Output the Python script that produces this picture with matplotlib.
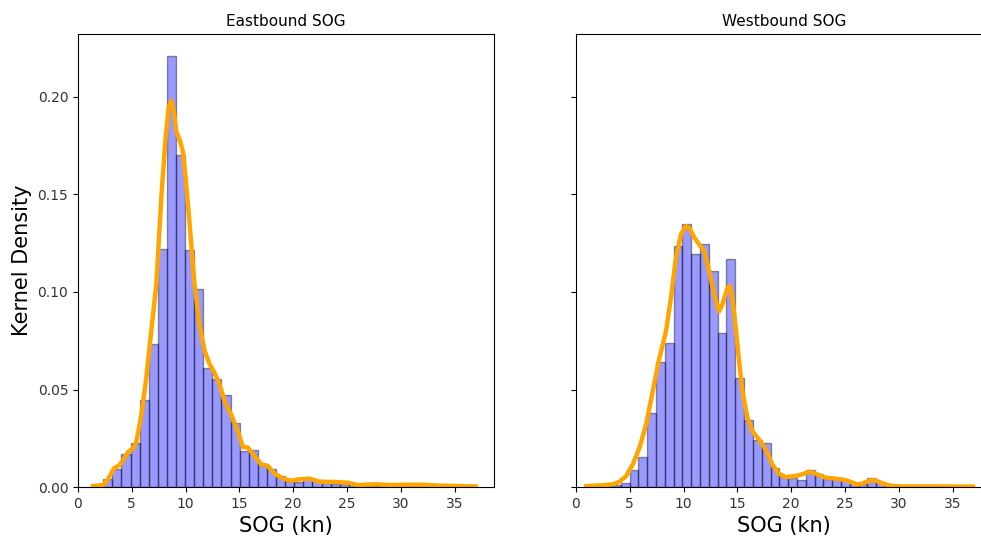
import matplotlib.pyplot as plt
import numpy as np

# Histogram bins (start, end, count) and bar heights
east_bins = (1.5, 37.0, 42)
east_density = [0.0005, 0.0043, 0.0094, 0.0168, 0.0227, 0.0444, 0.0732, 0.1219,
                0.2209, 0.1701, 0.1214, 0.1017, 0.0609, 0.0556, 0.0470, 0.0330,
                0.0185, 0.0188, 0.0116, 0.0091, 0.0056, 0.0030, 0.0027, 0.0039,
                0.0036, 0.0020, 0.0017, 0.0017, 0.0014, 0.0010, 0.0008, 0.0009,
                0.0007, 0.0008, 0.0006, 0.0005, 0.0006, 0.0004, 0.0003, 0.0003,
                0.0002, 0.0002]

west_bins = (0.9, 36.9, 44)
west_density = [0.0000, 0.0003, 0.0005, 0.0010, 0.0020, 0.0085, 0.0154, 0.0381,
                0.0641, 0.0737, 0.1236, 0.1350, 0.1193, 0.1244, 0.1108, 0.0791,
                0.1168, 0.0561, 0.0342, 0.0239, 0.0224, 0.0099, 0.0056, 0.0044,
                0.0036, 0.0089, 0.0065, 0.0043, 0.0039, 0.0034, 0.0020, 0.0014,
                0.0048, 0.0027, 0.0009, 0.0004, 0.0003, 0.0003, 0.0002, 0.0002,
                0.0002, 0.0001, 0.0001, 0.0001]

# KDE curves (x, density)
east_kde_x = [1.39, 2.32, 2.79, 3.35, 3.87, 4.34, 4.65, 5.11, 5.42, 5.89, 6.35, 6.81,
              7.28, 7.74, 8.11, 8.42, 8.67, 8.92, 9.13, 9.53, 9.75, 10.06, 10.37,
              10.83, 11.3, 11.76, 12.23, 12.69, 13.16, 13.62, 14.24, 14.86, 15.33,
              15.79, 16.41, 17.03, 17.65, 18.27, 19.04, 19.82, 20.44, 21.52, 22.45,
              23.85, 25.09, 26.02, 27.56, 29.11, 30.66, 31.9, 33.76, 35.3, 36.95]
east_kde_y = [0.0005, 0.001, 0.004, 0.0096, 0.0113, 0.015, 0.018, 0.0198, 0.023,
              0.037, 0.056, 0.080, 0.104, 0.148, 0.177, 0.1945, 0.198, 0.192,
              0.1826, 0.1766, 0.172, 0.155, 0.135, 0.104, 0.083, 0.070, 0.063,
              0.0586, 0.0526, 0.044, 0.037, 0.0287, 0.0205, 0.0202, 0.0159, 0.0116,
              0.0108, 0.0068, 0.0044, 0.0031, 0.0039, 0.0043, 0.0027, 0.0026,
              0.0022, 0.001, 0.0014, 0.001, 0.0012, 0.0012, 0.0007, 0.0005, 0.0003]

west_kde_x = [0.96, 2.5, 3.43, 4.05, 4.66, 5.28, 5.9, 6.52, 7.13, 7.75, 8.37, 8.83,
              9.29, 9.76, 10.22, 10.53, 10.99, 11.45, 11.92, 12.38, 13.0, 13.3,
              13.61, 14.08, 14.29, 14.54, 14.85, 15.16, 15.47, 15.93, 16.39, 17.01,
              17.63, 18.25, 18.86, 19.48, 20.4, 21.18, 21.79, 22.41, 23.18, 24.11,
              25.03, 26.11, 26.57, 27.35, 27.81, 28.58, 29.2, 30.28, 33.37, 36.9]
west_kde_y = [0.0005, 0.0009, 0.0014, 0.0027, 0.0056, 0.0116, 0.020, 0.032, 0.049,
              0.066, 0.080, 0.097, 0.1176, 0.1296, 0.1338, 0.133, 0.128, 0.1244,
              0.121, 0.1108, 0.0954, 0.090, 0.0937, 0.102, 0.1031, 0.097, 0.0817,
              0.0646, 0.049, 0.0356, 0.0287, 0.0244, 0.0193, 0.0116, 0.0068, 0.0051,
              0.0056, 0.0068, 0.0079, 0.0065, 0.0048, 0.0043, 0.0036, 0.0014,
              0.0017, 0.0034, 0.0034, 0.0017, 0.0007, 0.0003, 0.0003, 0.0002]

fig = plt.figure(figsize=(9.81, 5.36), dpi=100)
ax1 = fig.add_axes([0.0795, 0.0914, 0.4245, 0.8452])
ax2 = fig.add_axes([0.5871, 0.0914, 0.4245, 0.8452], sharey=ax1)

panels = [
    (ax1, east_bins, east_density, east_kde_x, east_kde_y, "Eastbound SOG"),
    (ax2, west_bins, west_density, west_kde_x, west_kde_y, "Westbound SOG"),
]

for ax, bins, dens, kx, ky, title in panels:
    edges = np.linspace(bins[0], bins[1], bins[2] + 1)
    ax.bar(edges[:-1], dens, width=np.diff(edges), align='edge',
           color='blue', alpha=0.4, edgecolor='black', linewidth=1)
    ax.plot(kx, ky, color='orange', linewidth=3.2)
    ax.set_title(title, fontsize=11)
    ax.set_xlabel("SOG (kn)", fontsize=15)
    ax.set_xlim(0, 38.7)
    ax.set_xticks([0, 5, 10, 15, 20, 25, 30, 35])
    ax.tick_params(labelsize=10, labelcolor='#333333')

ax1.set_ylim(0, 0.2323)
ax1.set_yticks([0.00, 0.05, 0.10, 0.15, 0.20])
ax1.set_ylabel("Kernel Density", fontsize=15)
plt.setp(ax2.get_yticklabels(), visible=False)
# the right panel runs past the edge of the picture, so its right side is cut off
ax2.spines['right'].set_visible(False)

plt.savefig("out.png", dpi=100)
